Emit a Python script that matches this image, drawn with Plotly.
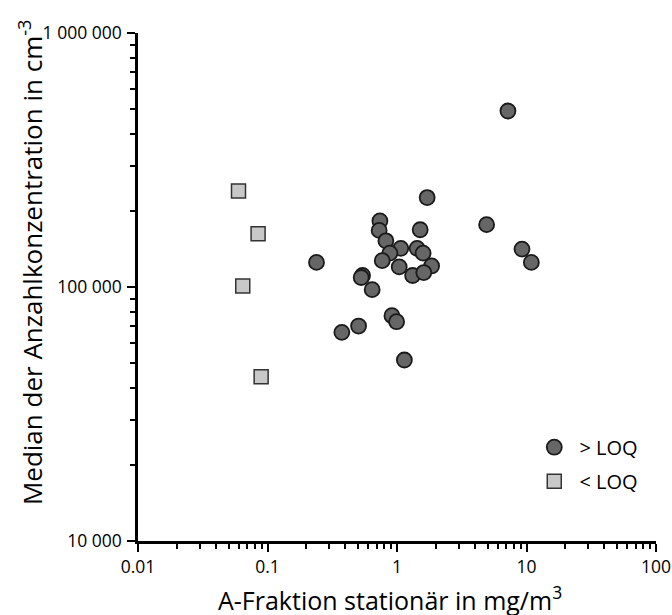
import plotly.graph_objects as go

# > LOQ (circles)
above_x = [7.19, 1.71, 0.738, 0.728, 1.51, 4.92, 0.821, 1.07, 1.43, 1.59, 0.881,
           9.23, 10.9, 0.239, 0.769, 1.04, 1.85, 1.32, 1.61, 0.542, 0.529, 0.643,
           0.914, 0.993, 0.505, 0.375, 1.14]
above_y = [493000, 225000, 182000, 167000, 168000, 176000, 152000, 142000, 142000,
           136000, 136000, 141000, 125000, 125000, 127000, 120000, 121000, 111000,
           114000, 111000, 109000, 97600, 77100, 73000, 70200, 66300, 51600]

# < LOQ (squares)
below_x = [0.0597, 0.0846, 0.0644, 0.0893]
below_y = [239000, 162000, 101000, 44300]

x_tickvals = [0.01, 0.1, 1, 10, 100]
x_ticktext = ["0.01", "0.1", "1", "10", "100"]
y_tickvals = [10000, 100000, 1000000]
y_ticktext = ["10 000", "100 000", "1 000 000"]

x_minor = [m * 10.0 ** e for e in (-2, -1, 0, 1) for m in range(2, 10)]
y_minor = [m * 10.0 ** e for e in (4, 5) for m in range(2, 10)]

FONT = "Open Sans"

fig = go.Figure()
fig.add_trace(go.Scatter(
    x=above_x, y=above_y, mode="markers", name="\u00a0>\u00a0LOQ", legendgroup="a",
    marker=dict(symbol="circle", size=15, color="#666666",
                line=dict(color="#1a1a1a", width=1.8)),
))
fig.add_trace(go.Scatter(
    x=below_x, y=below_y, mode="markers", name="\u00a0<\u00a0LOQ", legendgroup="b",
    marker=dict(symbol="square", size=14, color="#c8c8c8",
                line=dict(color="#333333", width=1.5)),
))

axis_common = dict(
    type="log", showgrid=False, zeroline=False, showline=True, automargin=False,
    linecolor="black", linewidth=2.5, ticks="outside", ticklen=8,
    tickwidth=2, tickcolor="black", tickmode="array",
    tickfont=dict(family=FONT, size=17.5, color="black"),
)

fig.update_xaxes(
    **axis_common, range=[-2, 2], tickvals=x_tickvals, ticktext=x_ticktext,
    minor=dict(tickmode="array", tickvals=x_minor, ticks="outside", ticklen=5,
               tickwidth=2, tickcolor="black"),
)
fig.update_yaxes(
    **axis_common, range=[4, 6], tickvals=y_tickvals, ticktext=y_ticktext,
    ticklabelstandoff=2,
    minor=dict(tickmode="array", tickvals=y_minor, ticks="outside", ticklen=5,
               tickwidth=2, tickcolor="black"),
)

fig.add_annotation(
    text="A-Fraktion stationär in mg/m<sup>3</sup>", xref="paper", yref="paper",
    x=0.4865, y=-0.114, xanchor="center", yanchor="middle", showarrow=False,
    font=dict(family=FONT, size=25, color="black"),
)
fig.add_annotation(
    text="Median der Anzahlkonzentration in cm<sup>-3</sup>", xref="paper", yref="paper",
    x=-0.2066, y=0.549, xanchor="center", yanchor="middle", showarrow=False,
    textangle=-90, font=dict(family=FONT, size=26, color="black"),
)

fig.update_layout(
    width=672, height=615, autosize=False,
    margin=dict(l=138, r=16, t=33, b=74, autoexpand=False),
    paper_bgcolor="white", plot_bgcolor="white",
    showlegend=True,
    legend=dict(x=0.765, y=0.223, xanchor="left", yanchor="top",
                font=dict(family=FONT, size=20, color="black"),
                bgcolor="rgba(0,0,0,0)", tracegroupgap=5),
)

fig.write_html(
    "out.html",
    config={"displayModeBar": False, "responsive": False},
    post_script="document.body.style.margin='0px';document.body.style.overflow='hidden';",
)
